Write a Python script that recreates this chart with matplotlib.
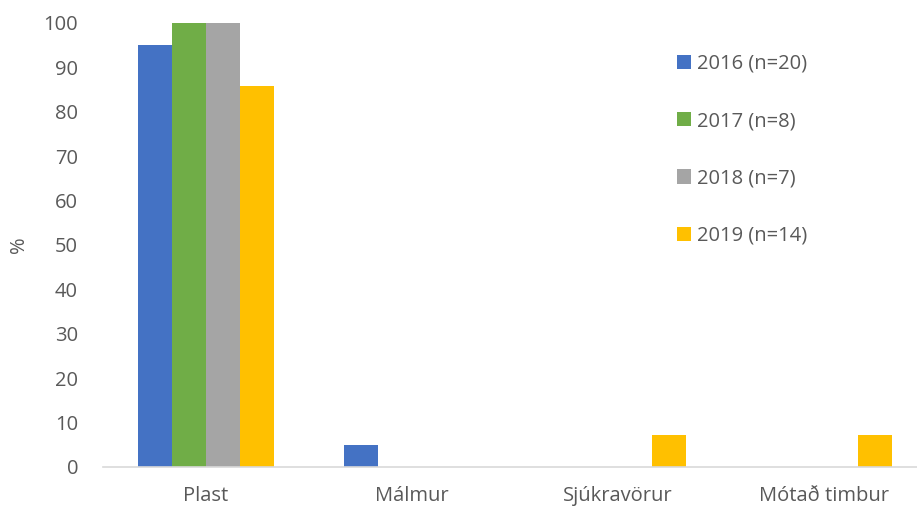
import numpy as np
import matplotlib.pyplot as plt

categories = ["Plast", "Málmur", "Sjúkravörur", "Mótað timbur"]
series = ["2016 (n=20)", "2017 (n=8)", "2018 (n=7)", "2019 (n=14)"]
v2016 = [95, 5, 0, 0]
v2017 = [100, 0, 0, 0]
v2018 = [100, 0, 0, 0]
v2019 = [85.7, 0, 7.1, 7.1]
colors = ["#4472C4", "#70AD47", "#A5A5A5", "#FFC000"]

plt.rcParams["font.family"] = "Open Sans"
txt = "#595959"
fs = 14.5

fig = plt.figure(figsize=(9.17, 5.09), dpi=100)
ax = fig.add_axes([103 / 917, 42 / 509, 814 / 917, 444 / 509])

x = np.arange(len(categories))
w = 0.165
for i, (vals, lab, c) in enumerate(zip([v2016, v2017, v2018, v2019], series, colors)):
    ax.bar(x + (i - 1.5) * w, vals, w, color=c, label=lab)

ax.set_xlim(-0.5, 3.45)
ax.set_ylim(0, 100)
ax.set_yticks(np.arange(0, 101, 10))
ax.set_xticks(x)
ax.set_xticklabels(categories)
ax.tick_params(axis="both", length=0, labelsize=fs, colors=txt)
ax.tick_params(axis="x", pad=14)
ax.tick_params(axis="y", pad=18)
for s in ["top", "right", "left"]:
    ax.spines[s].set_visible(False)
ax.spines["bottom"].set_color("#D9D9D9")
ax.spines["bottom"].set_linewidth(1.2)
ax.set_ylabel("%", fontsize=fs, color=txt, labelpad=10)

leg = ax.legend(loc="upper left", bbox_to_anchor=(677 / 917, 1 - 54 / 509),
                bbox_transform=fig.transFigure, frameon=False, fontsize=fs,
                labelspacing=1.85, handlelength=0.7, handleheight=0.7,
                handletextpad=0.3, borderpad=0, borderaxespad=0)
for t in leg.get_texts():
    t.set_color(txt)

plt.savefig("out.png", dpi=100)
